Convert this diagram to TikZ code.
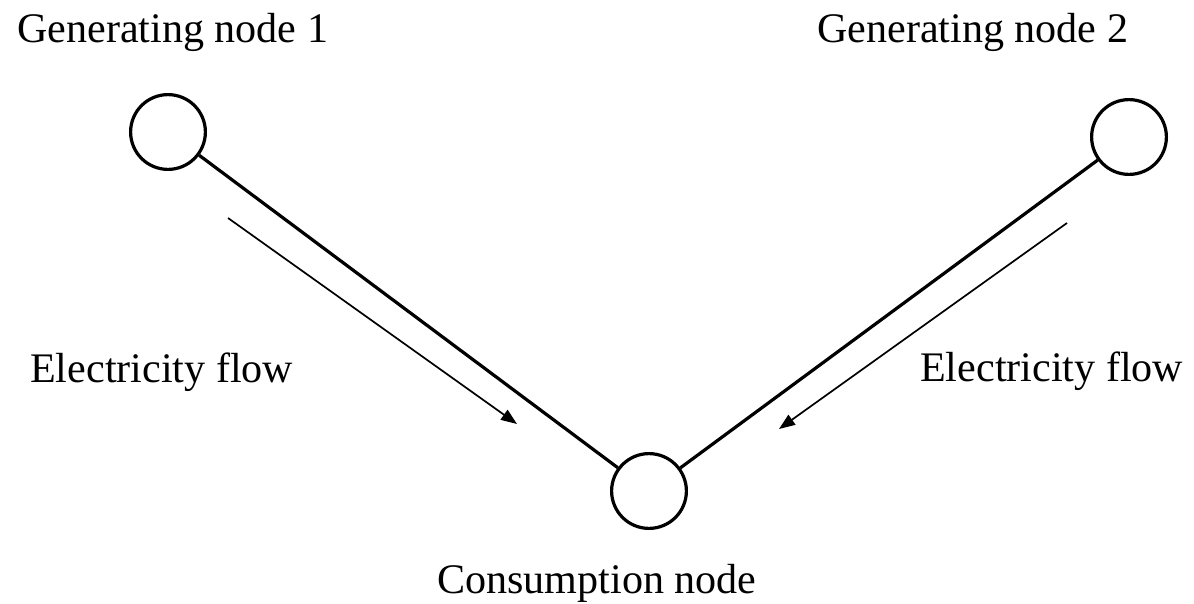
\documentclass[tikz,border=0pt]{standalone}
\usepackage{fontspec}
\setmainfont{Liberation Serif}
\usetikzlibrary{arrows.meta}
\begin{document}
\begin{tikzpicture}[x=1pt,y=-1pt,
  busnode/.style={circle,draw=black,line width=3.2pt,minimum size=74.8pt,inner sep=0pt},
  lbl/.style={inner sep=0pt,anchor=base west,font=\fontsize{42.1}{50}\selectfont},
  link/.style={line width=3.2pt,black},
  flow/.style={line width=1.7pt,black,-{Triangle[length=16pt,width=12pt]}}]
\useasboundingbox[fill=white] (0,0) rectangle (1194,603);
\node[busnode] (g1) at (168,132) {};
\node[busnode] (g2) at (1129,137) {};
\node[busnode] (c) at (649,491) {};
\draw[link] (g1) -- (c);
\draw[link] (g2) -- (c);
\coordinate (a1s) at (228,218);
\coordinate (a1e) at (517,424);
\coordinate (a2s) at (1067,223);
\coordinate (a2e) at (779,429);
\draw[flow] (a1s) -- (a1e);
\draw[flow] (a2s) -- (a2e);
\node[lbl] (t1) at (17,42) {Generating node 1};
\node[lbl] (t2) at (817,42) {Generating node 2};
\node[lbl] (f1) at (30,382) {Electricity flow};
\node[lbl] (f2) at (920,381) {Electricity flow};
\node[lbl] (tc) at (437,593) {Consumption node};
\end{tikzpicture}
\end{document}
